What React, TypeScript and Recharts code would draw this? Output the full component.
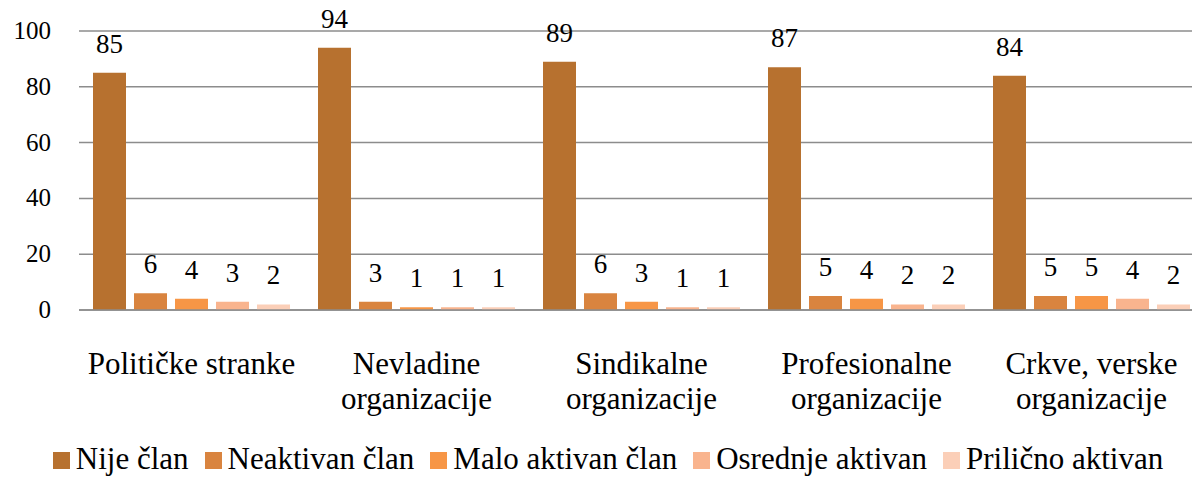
import { Bar, BarChart, CartesianGrid, LabelList, Legend, XAxis, YAxis } from "recharts";

const categories = [
  "Političke stranke",
  "Nevladine\norganizacije",
  "Sindikalne\norganizacije",
  "Profesionalne\norganizacije",
  "Crkve, verske\norganizacije",
];

const nijeClan = [85, 94, 89, 87, 84];
const neaktivanClan = [6, 3, 6, 5, 5];
const maloAktivan = [4, 1, 3, 4, 5];
const osrednjeAktivan = [3, 1, 1, 2, 4];
const prilicnoAktivan = [2, 1, 1, 2, 2];

const yTicks = [0, 20, 40, 60, 80, 100];

const SERIES = [
  { key: "nije", name: "Nije član", values: nijeClan, color: "#B7712F" },
  { key: "neaktivan", name: "Neaktivan član", values: neaktivanClan, color: "#D9843F" },
  { key: "malo", name: "Malo aktivan član", values: maloAktivan, color: "#F79646" },
  { key: "osrednje", name: "Osrednje aktivan", values: osrednjeAktivan, color: "#F9B48E" },
  { key: "prilicno", name: "Prilično aktivan", values: prilicnoAktivan, color: "#FBCFB8" },
];

const data = categories.map((cat, i) => {
  const row: Record<string, string | number> = { category: cat };
  SERIES.forEach((s) => {
    row[s.key] = s.values[i];
  });
  return row;
});

const FONT = '"Liberation Serif", "DejaVu Serif", serif';

function CategoryTick(props: any) {
  const { x, y, payload } = props;
  const lines = String(payload.value).split("\n");
  return (
    <g transform={`translate(${x},${y})`}>
      {lines.map((line, i) => (
        <text key={i} x={0} y={56 + i * 35} textAnchor="middle" fill="#000" style={{ fontSize: 31, fontFamily: FONT }}>
          {line}
        </text>
      ))}
    </g>
  );
}

function ValueLabel(props: any) {
  const { x, y, width, value } = props;
  return (
    <text x={x + width / 2} y={y - 20} textAnchor="middle" fill="#000" style={{ fontSize: 27, fontFamily: FONT }}>
      {value}
    </text>
  );
}

function YTick(props: any) {
  const { x, y, payload } = props;
  return (
    <text x={x} y={y} dy={8} textAnchor="end" fill="#000" style={{ fontSize: 25, fontFamily: FONT }}>
      {payload.value}
    </text>
  );
}

function LegendContent() {
  return (
    <div
      style={{
        display: "flex",
        justifyContent: "center",
        fontFamily: FONT,
        fontSize: 31,
        lineHeight: "34px",
        color: "#000",
        whiteSpace: "nowrap",
      }}
    >
      {SERIES.map((s) => (
        <div key={s.key} style={{ display: "flex", alignItems: "center", marginRight: 16 }}>
          <span style={{ display: "inline-block", width: 17, height: 17, background: s.color, marginRight: 6, marginTop: 3 }} />
          <span>{s.name}</span>
        </div>
      ))}
    </div>
  );
}

export default function App() {
  return (
    <div style={{ width: 1192, height: 477, overflow: "hidden", position: "relative", background: "#fff" }}>
      <style>{"html, body { margin: 0; padding: 0; overflow: hidden; }"}</style>
      <BarChart
        width={1230}
        height={477}
        data={data}
        margin={{ top: 31, right: 26, left: 0, bottom: 67 }}
        barSize={33}
        barGap={8}
      >
        <CartesianGrid vertical={false} stroke="#8c8c8c" strokeWidth={1.5} />
        <XAxis
          dataKey="category"
          height={100}
          tick={<CategoryTick />}
          tickLine={false}
          axisLine={{ stroke: "#8c8c8c", strokeWidth: 1.5 }}
          interval={0}
        />
        <YAxis
          width={79}
          domain={[0, 100]}
          ticks={yTicks}
          tickLine={false}
          axisLine={false}
          tickMargin={22}
          tick={<YTick />}
        />
        <Legend
          layout="horizontal"
          verticalAlign="middle"
          align="center"
          wrapperStyle={{ top: 442, left: 20, width: 1192 }}
          content={<LegendContent />}
        />
        {SERIES.map((s) => (
          <Bar key={s.key} dataKey={s.key} name={s.name} fill={s.color} isAnimationActive={false}>
            <LabelList dataKey={s.key} content={<ValueLabel />} />
          </Bar>
        ))}
      </BarChart>
    </div>
  );
}
